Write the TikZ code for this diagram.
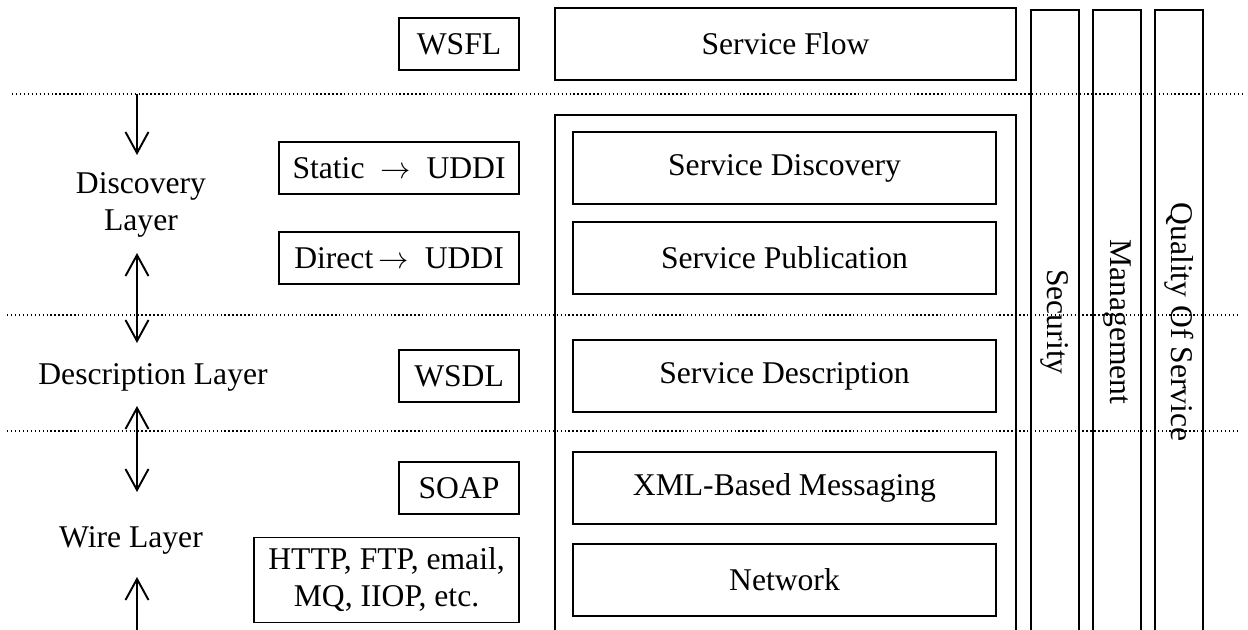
\documentclass[tikz,border=0pt]{standalone}
\usepackage{fontspec}
\setmainfont{Liberation Serif}
\usepackage{tikz}
\usetikzlibrary{arrows.meta}
\usetikzlibrary{positioning}
\newcommand{\pnode}[3]{\node(#1)[item, minimum width=84.6mm] at (#2) {#3}}
\newcommand{\lnode}[4]{\node(#1)[item, minimum width=#2, minimum height=10.4mm, left=10.4mm of #3] {#4}}
\newcommand{\barnode}[3]{\node(#1)[bar] at (#2) {#3}}

\begin{document}
\begin{tikzpicture}[
        x=0.2mm, y=-0.2mm,
        every node/.style={font=\fontsize{18}{21}\selectfont},
        item/.style={rectangle,minimum height=14.4mm,inner sep=0pt,
                     line width=1.1pt,draw=black},
        bar/.style={rectangle,rotate=-90,minimum width=124.8mm,minimum height=9.6mm,
                    inner sep=0pt,line width=1.1pt,draw=black},
        frame/.style={line width=1.1pt},
        sep/.style={line width=0.75pt,dash pattern=on 0.75pt off 1.5pt},
        layer/.style={align=center},
        >={Straight Barb[length=4.2mm,width=4.6mm]}
      ]
      \useasboundingbox (0,0) rectangle (1248,630);

      % layer separators
      \draw[sep] (12,94) -- (1242,94);
      \draw[sep] (7,315) -- (1240,315);
      \draw[sep] (7,431) -- (1240,431);

      % stack
      \node(sflow)[item, minimum width=92.2mm] at (785.5,44) {Service Flow};
      \draw[frame] (555,115) rectangle (1016,636);
      \pnode{sdisc}{784.5,168}{Service Discovery};
      \pnode{spub}{784.5,258}{Service Publication};
      \pnode{sdesc}{784.5,376}{Service Description};
      \pnode{xmlmsg}{784.5,488}{XML-Based Messaging};
      \pnode{net}{784.5,580}{Network};

      % technologies
      \node(wsfl)[item, minimum width=24mm, minimum height=10.4mm, left=6.8mm of sflow] {WSFL};
      \lnode{static}{48mm}{sdisc}{Static\ \ $\rightarrow$\ \ UDDI};
      \lnode{direct}{48mm}{spub}{Direct\,$\rightarrow$\ \ UDDI};
      \lnode{wsdl}{24mm}{sdesc}{WSDL};
      \lnode{soap}{24mm}{xmlmsg}{SOAP};
      \node(proto)[item, minimum width=53mm, minimum height=17mm, left=10.4mm of net,
                   align=center] {HTTP, FTP, email,\\MQ, IIOP, etc.};

      % vertical bars
      \barnode{sec}{1055,322}{Security};
      \barnode{mgmt}{1117,322}{Management};
      \barnode{qos}{1179,322}{Quality Of Service};

      % layers on the left
      \node(disc)[layer] at (141,205) {Discovery\\Layer};
      \node(desc)[layer] at (153,377) {Description Layer};
      \node(wire)[layer] at (131,540) {Wire Layer};

      \coordinate (a0) at (137,94);
      \coordinate (a1) at (137,155);
      \coordinate (a2) at (137,253);
      \coordinate (a3) at (137,343);
      \coordinate (a4) at (137,406);
      \coordinate (a5) at (137,492);
      \coordinate (a6) at (137,577);
      \coordinate (a7) at (137,634);
      {
       \path[line width=1.1pt]
        (a0) edge[->] (a1)
        (a2) edge[<->] (a3)
        (a4) edge[<->] (a5)
        (a7) edge[->] (a6);
      }
    \end{tikzpicture}
\end{document}
